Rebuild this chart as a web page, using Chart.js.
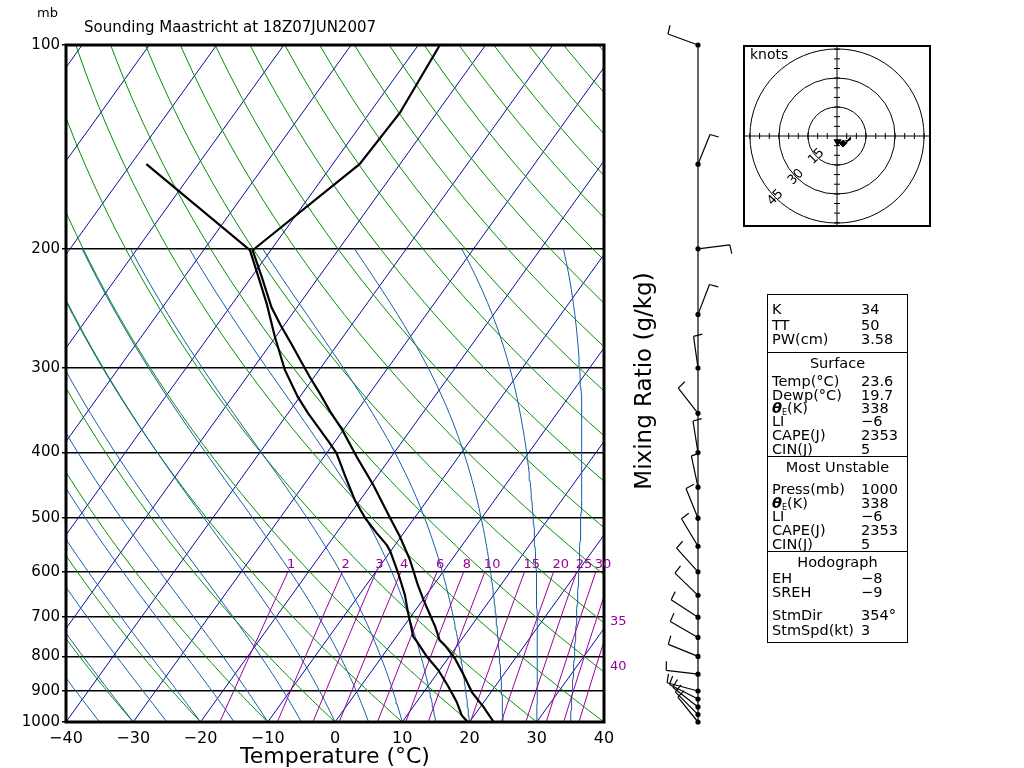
<!DOCTYPE html>
<html>
<head>
<meta charset="utf-8">
<title>Sounding Maastricht</title>
<script src="https://cdn.jsdelivr.net/npm/chart.js@4.4.1/dist/chart.umd.min.js"></script>
<style>
  html, body { margin: 0; padding: 0; background: #fff; }
  #page { position: relative; width: 1024px; height: 768px; overflow: hidden; font-family: "DejaVu Sans", sans-serif; }
  #skew { position: absolute; left: 0; top: 0; }
  #hodo { position: absolute; left: 743px; top: 45px; }
  .box { position: absolute; left: 767px; width: 141px; border: 1px solid #000; box-sizing: border-box; }
  .cell { position: absolute; font-size: 14.5px; line-height: 16px; white-space: nowrap; color: #000; }
  .head { left: 767px; width: 141px; text-align: center; }
  .sub { font-size: 8px; vertical-align: -2px; }
</style>
</head>
<body>
<div id="page">
  <canvas id="skew" width="1024" height="768"></canvas>
  <canvas id="hodo" width="188" height="182"></canvas>
  <div id="stats"></div>
</div>
<script>
// skew of the isotherms: deg C shift per decade of pressure
const SKEW = 72.4;

const pressureTicks = [100, 200, 300, 400, 500, 600, 700, 800, 900, 1000];
const tempTicks = [-40, -30, -20, -10, 0, 10, 20, 30, 40];

// temperature profile (mb, deg C)
const tempPres = [1000, 949, 904, 852, 805, 770, 757, 723, 695, 660, 628, 576, 532, 498, 447, 406, 370, 348, 327, 309, 295, 277, 259, 244, 220, 201, 150, 126, 100];
const tempVals = [23.6, 20.4, 17.2, 14.1, 11.0, 8.1, 6.8, 4.7, 2.7, 0.1, -2.3, -6.2, -10.2, -13.8, -19.6, -25.1, -30.2, -33.9, -37.4, -40.7, -43.3, -46.8, -50.6, -53.8, -58.5, -62.7, -56.0, -55.5, -56.8];

// dewpoint profile (mb, deg C)
const dewpPres = [1000, 977, 933, 887, 838, 801, 761, 748, 707, 683, 649, 603, 560, 548, 526, 500, 470, 434, 401, 388, 370, 350, 331, 302, 270, 241, 220, 201, 150];
const dewpVals = [19.7, 18.1, 15.9, 13.1, 9.8, 6.7, 3.6, 2.5, 0.2, -1.2, -3.2, -6.5, -10.0, -11.2, -14.0, -17.3, -20.8, -24.7, -28.5, -30.5, -33.5, -37.0, -40.3, -45.1, -50.1, -54.9, -59.0, -63.1, -87.7];

// winds (mb, direction deg, speed kt)
const windPres = [1000, 975, 950, 925, 900, 850, 800, 750, 700, 650, 600, 550, 500, 450, 400, 350, 300, 250, 200, 150, 100];
const windDir = [321, 315, 308, 297, 285, 277, 292, 300, 303, 314, 318, 329, 338, 348, 351, 322, 352, 21, 83, 22, 290];
const windSpd = [5, 5, 6, 6, 7, 7, 6, 5, 5, 5, 5, 5, 5, 5, 5, 5, 5, 5, 5, 5, 5];

// background lines
const isotherms = [-110, -100, -90, -80, -70, -60, -50, -40, -30, -20, -10, 0, 10, 20, 30, 40];
const dryAdiabats = [-40, -30, -20, -10, 0, 10, 20, 30, 40, 50, 60, 70, 80, 90, 100, 110, 120, 130, 140, 150, 160, 170, 180, 190];
const moistAdiabats = [-40, -35, -30, -25, -20, -15, -10, -5, 0, 5, 10, 15, 20, 25, 30, 35];
const mixRatios = [1, 2, 3, 4, 6, 8, 10, 15, 20, 25, 30, 35, 40];

// hodograph
const hodoRings = [15, 30, 45];
const stormDir = 354;
const stormSpd = 3;

const ISO_COLOR = '#0a0a9c';
const DRY_COLOR = '#008f00';
const MOIST_COLOR = '#155da8';
const MIX_COLOR = '#980098';

const skewX = (t, p) => t + SKEW * Math.log10(1000 / p);
const satVap = tc => 6.112 * Math.exp(17.67 * tc / (tc + 243.5));

function dewFromMix(w, p) {
  const e = w * p / (622 + w);
  const l = Math.log(e / 6.112);
  return 243.5 * l / (17.67 - l);
}

function moistLapse(p, tk) {
  const Rd = 287.04, cp = 1005.7, Lv = 2.501e6, eps = 0.622;
  const es = satVap(tk - 273.15);
  const rs = eps * es / (p - es);
  return (Rd * tk + Lv * rs) / (p * (cp + Lv * Lv * rs * eps / (Rd * tk * tk)));
}

function moistPoints(t0) {
  const pts = [];
  let tk = t0 + 273.15;
  const h = -10;
  for (let p = 1000; p >= 200; p += h) {
    pts.push({ x: skewX(tk - 273.15, p), y: p });
    const k1 = moistLapse(p, tk);
    const k2 = moistLapse(p + h / 2, tk + h / 2 * k1);
    const k3 = moistLapse(p + h / 2, tk + h / 2 * k2);
    const k4 = moistLapse(p + h, tk + h * k3);
    tk += h / 6 * (k1 + 2 * k2 + 2 * k3 + k4);
  }
  return pts;
}

function dryPoints(t0) {
  const theta = t0 + 273.15;
  const pts = [];
  for (let p = 1000; p >= 100; p -= 10) {
    pts.push({ x: skewX(theta * Math.pow(p / 1000, 0.2857) - 273.15, p), y: p });
  }
  return pts;
}

function mixPoints(w) {
  const pts = [];
  for (let p = 1000; p >= 600; p -= 50) pts.push({ x: skewX(dewFromMix(w, p), p), y: p });
  return pts;
}

function line(points, color, width) {
  return { data: points, showLine: true, borderColor: color, borderWidth: width, pointRadius: 0, fill: false, tension: 0 };
}

const datasets = [
  line(tempPres.map((p, i) => ({ x: skewX(tempVals[i], p), y: p })), '#000', 2.2),
  line(dewpPres.map((p, i) => ({ x: skewX(dewpVals[i], p), y: p })), '#000', 2.2)
];
mixRatios.forEach(w => datasets.push(line(mixPoints(w), MIX_COLOR, 1)));
moistAdiabats.forEach(t => datasets.push(line(moistPoints(t), MOIST_COLOR, 1)));
dryAdiabats.forEach(t => datasets.push(line(dryPoints(t), DRY_COLOR, 1)));
isotherms.forEach(t => datasets.push(line([{ x: t, y: 1000 }, { x: skewX(t, 100), y: 100 }], ISO_COLOR, 1)));

const minus = v => (v < 0 ? '\u2212' + Math.abs(v) : String(v));

const skewDecor = {
  id: 'skewDecor',
  afterDraw(chart) {
    const { ctx, chartArea: a, scales: { x: xs, y: ys } } = chart;
    ctx.save();
    ctx.strokeStyle = '#000';
    ctx.lineWidth = 3;
    ctx.strokeRect(a.left, a.top, a.right - a.left, a.bottom - a.top);

    ctx.fillStyle = '#000';
    ctx.textBaseline = 'middle';
    ctx.textAlign = 'left';
    ctx.font = '15px "DejaVu Sans"';
    ctx.fillText('Sounding Maastricht at 18Z07JUN2007', 84, 28);
    ctx.font = '13px "DejaVu Sans"';
    ctx.fillText('mb', 37, 14);

    // mixing ratio labels
    ctx.fillStyle = MIX_COLOR;
    ctx.font = '13px "DejaVu Sans"';
    mixRatios.forEach(w => {
      const xTop = skewX(dewFromMix(w, 600), 600);
      if (xTop <= 40) {
        ctx.textBaseline = 'bottom';
        ctx.fillText(String(w), xs.getPixelForValue(xTop) - 1, ys.getPixelForValue(600) - 1);
      } else {
        let lo = 600, hi = 1000;
        for (let k = 0; k < 30; k++) {
          const mid = (lo + hi) / 2;
          if (skewX(dewFromMix(w, mid), mid) > 40) lo = mid; else hi = mid;
        }
        ctx.textBaseline = 'middle';
        ctx.fillText(String(w), a.right + 6, ys.getPixelForValue(lo) + 25);
      }
    });

    // side title
    ctx.fillStyle = '#000';
    ctx.font = '23px "DejaVu Sans"';
    ctx.textAlign = 'center';
    ctx.textBaseline = 'middle';
    ctx.save();
    ctx.translate(645, 381);
    ctx.rotate(-Math.PI / 2);
    ctx.fillText('Mixing Ratio (g/kg)', 0, 0);
    ctx.restore();

    // wind barbs
    const cx = 698;
    ctx.lineWidth = 1.2;
    ctx.beginPath();
    ctx.moveTo(cx, ys.getPixelForValue(100));
    ctx.lineTo(cx, ys.getPixelForValue(1000));
    ctx.stroke();
    windPres.forEach((p, i) => {
      const py = ys.getPixelForValue(p);
      const d = windDir[i] * Math.PI / 180;
      const ux = Math.sin(d), uy = -Math.cos(d);
      const px = Math.cos(d), pyy = Math.sin(d);
      const L = 32;
      ctx.beginPath();
      ctx.moveTo(cx, py);
      ctx.lineTo(cx + L * ux, py + L * uy);
      let spd = Math.round(windSpd[i] / 5) * 5;
      let pos = L;
      while (spd >= 10) {
        const sx = cx + pos * ux, sy = py + pos * uy;
        ctx.moveTo(sx, sy);
        ctx.lineTo(sx + 11 * px + 2 * ux, sy + 11 * pyy + 2 * uy);
        pos -= 4;
        spd -= 10;
      }
      if (spd >= 5) {
        const sx = cx + pos * ux, sy = py + pos * uy;
        ctx.moveTo(sx, sy);
        ctx.lineTo(sx + 9 * px + 1 * ux, sy + 9 * pyy + 1 * uy);
      }
      ctx.stroke();
      ctx.beginPath();
      ctx.arc(cx, py, 2.6, 0, Math.PI * 2);
      ctx.fill();
    });
    ctx.restore();
  }
};

new Chart(document.getElementById('skew'), {
  type: 'scatter',
  data: { datasets },
  options: {
    responsive: false,
    animation: false,
    devicePixelRatio: 1,
    events: [],
    layout: { padding: { left: 0, top: 45, right: 420, bottom: 0 } },
    plugins: { legend: { display: false }, tooltip: { enabled: false } },
    scales: {
      x: {
        type: 'linear', min: -40, max: 40,
        afterBuildTicks: s => { s.ticks = tempTicks.map(v => ({ value: v })); },
        afterFit: s => { s.height = 46; },
        grid: { display: false, drawTicks: false },
        border: { display: false },
        ticks: { autoSkip: false, maxRotation: 0, padding: 7, color: '#000', font: { size: 16, family: '"DejaVu Sans"' }, callback: minus },
        title: { display: true, text: 'Temperature (\u00b0C)', color: '#000', padding: 0, font: { size: 22, family: '"DejaVu Sans"', lineHeight: 1 } }
      },
      y: {
        type: 'logarithmic', min: 100, max: 1000, reverse: true,
        afterBuildTicks: s => { s.ticks = pressureTicks.map(v => ({ value: v })); },
        afterFit: s => { s.width = 66; },
        grid: { color: '#000', lineWidth: 1.5, tickLength: 4 },
        border: { display: false },
        ticks: { padding: 2, color: '#000', font: { size: 15, family: '"DejaVu Sans"' }, callback: v => String(v) }
      }
    }
  },
  plugins: [skewDecor]
});

// ---- hodograph
const hodoPts = [];
windPres.forEach((p, i) => {
  if (p < 700) return;
  const d = windDir[i] * Math.PI / 180;
  hodoPts.push({ x: -windSpd[i] * Math.sin(d), y: -windSpd[i] * Math.cos(d) });
});
const sd = stormDir * Math.PI / 180;
const stormPt = { x: -stormSpd * Math.sin(sd), y: -stormSpd * Math.cos(sd) };

const hodoDecor = {
  id: 'hodoDecor',
  beforeDatasetsDraw(chart) {
    const { ctx, scales: { x, y }, width, height } = chart;
    const cx = x.getPixelForValue(0), cy = y.getPixelForValue(0);
    const k = x.getPixelForValue(1) - cx;
    ctx.save();
    ctx.strokeStyle = '#000';
    ctx.fillStyle = '#000';
    ctx.lineWidth = 1;
    hodoRings.forEach(r => {
      ctx.beginPath();
      ctx.arc(cx, cy, r * k, 0, Math.PI * 2);
      ctx.stroke();
    });
    ctx.beginPath();
    ctx.moveTo(0, cy); ctx.lineTo(width, cy);
    ctx.moveTo(cx, 0); ctx.lineTo(cx, height);
    for (let v = -45; v <= 45; v += 5) {
      if (v === 0) continue;
      const px = x.getPixelForValue(v), py = y.getPixelForValue(v);
      ctx.moveTo(px, cy - 3); ctx.lineTo(px, cy + 3);
      ctx.moveTo(cx - 3, py); ctx.lineTo(cx + 3, py);
    }
    ctx.stroke();
    ctx.font = '13px "DejaVu Sans"';
    ctx.textAlign = 'center';
    ctx.textBaseline = 'middle';
    hodoRings.forEach(r => {
      ctx.save();
      ctx.translate(cx - r * k * Math.SQRT1_2, cy + r * k * Math.SQRT1_2);
      ctx.rotate(-Math.PI / 4);
      ctx.fillText(String(r), 0, 0);
      ctx.restore();
    });
    ctx.textAlign = 'left';
    ctx.textBaseline = 'top';
    ctx.font = '14px "DejaVu Sans"';
    ctx.fillText('knots', 7, 3);
    ctx.lineWidth = 2;
    ctx.strokeRect(1, 1, width - 2, height - 2);
    ctx.restore();
  }
};

new Chart(document.getElementById('hodo'), {
  type: 'scatter',
  data: {
    datasets: [
      { data: hodoPts, showLine: true, borderColor: '#000', borderWidth: 1.3, pointRadius: 0, tension: 0.4 },
      { data: [hodoPts[0]], pointStyle: 'rectRot', pointRadius: 3.5, backgroundColor: '#000', borderColor: '#000' },
      { data: [stormPt], pointStyle: 'triangle', pointRotation: 180, pointRadius: 4, backgroundColor: '#000', borderColor: '#000' }
    ]
  },
  options: {
    responsive: false,
    animation: false,
    devicePixelRatio: 1,
    events: [],
    layout: { padding: 0 },
    plugins: { legend: { display: false }, tooltip: { enabled: false } },
    scales: {
      x: { type: 'linear', min: -46, max: 46, display: false },
      y: { type: 'linear', min: -44.6, max: 44.6, display: false }
    }
  },
  plugins: [hodoDecor]
});

// ---- index table
const statBoxes = [
  { top: 294, bottom: 352, head: null, rows: [['K', '34', 309], ['TT', '50', 325], ['PW(cm)', '3.58', 339]] },
  { top: 352, bottom: 456, head: ['Surface', 363], rows: [['Temp(\u00b0C)', '23.6', 381], ['Dewp(\u00b0C)', '19.7', 395], ['THETAE', '338', 408], ['LI', '\u22126', 421], ['CAPE(J)', '2353', 435], ['CIN(J)', '5', 449]] },
  { top: 456, bottom: 551, head: ['Most Unstable', 467], rows: [['Press(mb)', '1000', 489], ['THETAE', '338', 503], ['LI', '\u22126', 516], ['CAPE(J)', '2353', 530], ['CIN(J)', '5', 544]] },
  { top: 551, bottom: 642, head: ['Hodograph', 562], rows: [['EH', '\u22128', 578], ['SREH', '\u22129', 592], ['StmDir', '354\u00b0', 615], ['StmSpd(kt)', '3', 630]] }
];

const stats = document.getElementById('stats');
function addCell(cls, left, yc, html) {
  const el = document.createElement('div');
  el.className = cls;
  if (left !== null) el.style.left = left + 'px';
  el.style.top = (yc - 8) + 'px';
  el.innerHTML = html;
  stats.appendChild(el);
}
statBoxes.forEach(b => {
  const box = document.createElement('div');
  box.className = 'box';
  box.style.top = b.top + 'px';
  box.style.height = (b.bottom - b.top + 1) + 'px';
  stats.appendChild(box);
  if (b.head) addCell('cell head', null, b.head[1], b.head[0]);
  b.rows.forEach(r => {
    const label = r[0] === 'THETAE' ? '<b><i>\u03b8</i></b><span class="sub">E</span>(K)' : r[0];
    addCell('cell', 772, r[2], label);
    addCell('cell', 861, r[2], r[1]);
  });
});
</script>
</body>
</html>
